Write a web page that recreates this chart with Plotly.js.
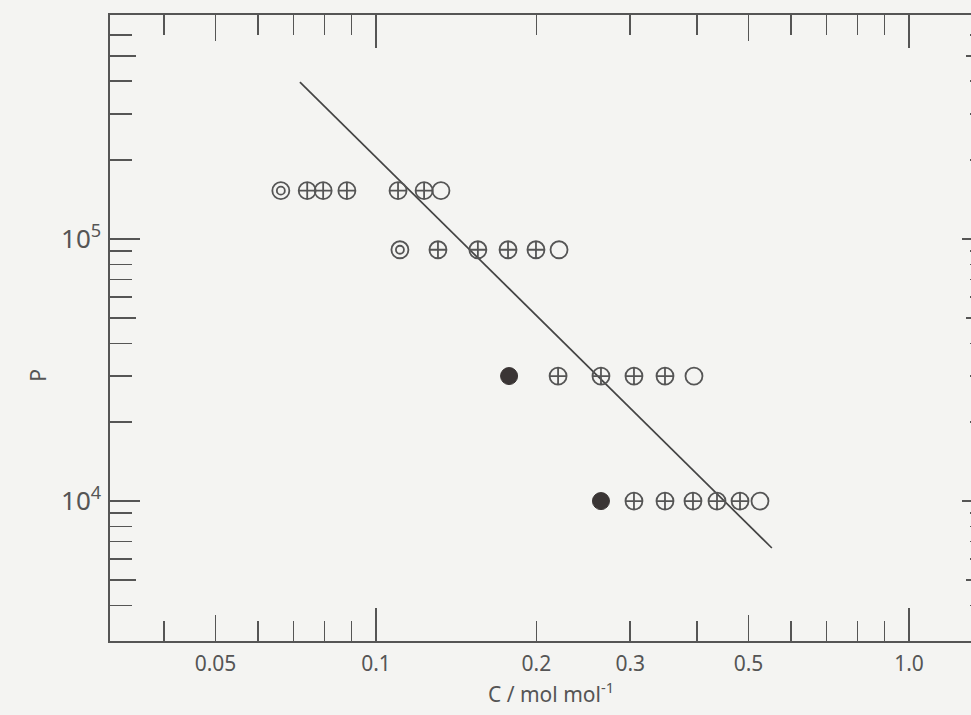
<!DOCTYPE html>
<html>
<head>
<meta charset="utf-8">
<script src="https://cdn.plot.ly/plotly-3.0.1.min.js"></script>
<style>
html,body{margin:0;padding:0;overflow:hidden;background:#f4f4f2;}
#chart{width:1002px;height:715px;}
</style>
</head>
<body>
<div id="chart"></div>
<script>
// Data
var row1C = [0.0743, 0.0796, 0.0882, 0.110, 0.1231];
var row1P = [1.53e5, 1.53e5, 1.53e5, 1.53e5, 1.53e5];
var row1DoubleC = [0.0663];
var row1DoubleP = [1.53e5];
var row1OpenC = [0.1324];
var row1OpenP = [1.53e5];

var row2C = [0.1307, 0.1553, 0.1769, 0.1996];
var row2P = [9.1e4, 9.1e4, 9.1e4, 9.1e4];
var row2DoubleC = [0.1109];
var row2DoubleP = [9.1e4];
var row2OpenC = [0.2205];
var row2OpenP = [9.1e4];

var row3C = [0.2196, 0.2643, 0.3048, 0.3485];
var row3P = [3.0e4, 3.0e4, 3.0e4, 3.0e4];
var row3FilledC = [0.1777];
var row3FilledP = [3.0e4];
var row3OpenC = [0.3950];
var row3OpenP = [3.0e4];

var row4C = [0.3048, 0.3485, 0.3933, 0.4363, 0.4819];
var row4P = [1.0e4, 1.0e4, 1.0e4, 1.0e4, 1.0e4];
var row4FilledC = [0.2643];
var row4FilledP = [1.0e4];
var row4OpenC = [0.5253];
var row4OpenP = [1.0e4];

var fitC = [0.0720, 0.553];
var fitP = [3.97e5, 6.62e3];

var xLabelVals = [0.05, 0.1, 0.2, 0.3, 0.5, 1.0];
var xLabelText = ['0.05', '0.1', '0.2', '0.3', '0.5', '1.0'];
var xMediumVals = [0.05, 0.5];
var xLongVals = [0.1, 1.0];
var xMinorVals = [0.04, 0.06, 0.07, 0.08, 0.09, 0.4, 0.6, 0.7, 0.8, 0.9];

var yLabelVals = [1e4, 1e5];
var yLabelText = ['10<sup>4</sup>', '10<sup>5</sup>'];
var yMediumVals = [5e3, 5e4, 5e5];
var yMinorVals = [4e3, 6e3, 7e3, 8e3, 9e3, 2e4, 3e4, 4e4, 6e4, 7e4, 8e4, 9e4, 2e5, 3e5, 4e5, 6e5];

var ink = '#555555';
var font = 'Noto Sans, DejaVu Sans, sans-serif';
var msize = 17;

function crossTrace(c, p) {
  return {x: c, y: p, type: 'scatter', mode: 'markers', hoverinfo: 'skip',
    marker: {symbol: 'circle-cross-open', size: msize, color: ink, line: {width: 1.8, color: ink}}};
}
function openTrace(c, p, s) {
  return {x: c, y: p, type: 'scatter', mode: 'markers', hoverinfo: 'skip',
    marker: {symbol: 'circle-open', size: s || msize, color: ink, line: {width: 1.8, color: ink}}};
}
function filledTrace(c, p) {
  return {x: c, y: p, type: 'scatter', mode: 'markers', hoverinfo: 'skip',
    marker: {symbol: 'circle', size: msize, color: '#3a3535', line: {width: 1, color: '#3a3535'}}};
}

var traces = [
  {x: fitC, y: fitP, type: 'scatter', mode: 'lines', hoverinfo: 'skip', line: {color: '#444', width: 1.7}},
  crossTrace(row1C, row1P), openTrace(row1DoubleC, row1DoubleP), openTrace(row1DoubleC, row1DoubleP, 8), openTrace(row1OpenC, row1OpenP),
  crossTrace(row2C, row2P), openTrace(row2DoubleC, row2DoubleP), openTrace(row2DoubleC, row2DoubleP, 8), openTrace(row2OpenC, row2OpenP),
  crossTrace(row3C, row3P), filledTrace(row3FilledC, row3FilledP), openTrace(row3OpenC, row3OpenP),
  crossTrace(row4C, row4P), filledTrace(row4FilledC, row4FilledP), openTrace(row4OpenC, row4OpenP),
  // empty traces that register the overlay axes used only for tick lengths
  {x: [], y: [], type: 'scatter', mode: 'markers', xaxis: 'x2', yaxis: 'y', hoverinfo: 'skip'},
  {x: [], y: [], type: 'scatter', mode: 'markers', xaxis: 'x3', yaxis: 'y', hoverinfo: 'skip'},
  {x: [], y: [], type: 'scatter', mode: 'markers', xaxis: 'x', yaxis: 'y2', hoverinfo: 'skip'}
];

var xr = [-1.499, 0.1557];
var yr = [3.466, 5.855];

function overlayX(vals, len) {
  return {type: 'log', range: xr, overlaying: 'x', side: 'bottom', tickmode: 'array', tickvals: vals,
    ticktext: vals.map(function () { return ' '; }),
    ticks: 'inside', ticklen: len, tickwidth: 1.6, tickcolor: ink, showticklabels: false,
    showline: false, mirror: 'ticks', showgrid: false, zeroline: false, fixedrange: true};
}
function overlayY(vals, len) {
  return {type: 'log', range: yr, overlaying: 'y', side: 'left', tickmode: 'array', tickvals: vals,
    ticktext: vals.map(function () { return ' '; }),
    ticks: 'inside', ticklen: len, tickwidth: 1.6, tickcolor: ink, showticklabels: false,
    showline: false, mirror: 'ticks', showgrid: false, zeroline: false, fixedrange: true};
}

var layout = {
  width: 1002, height: 715,
  margin: {l: 110, r: 10, t: 15, b: 74},
  paper_bgcolor: '#f4f4f2', plot_bgcolor: '#f4f4f2',
  showlegend: false,
  font: {family: font, color: ink, size: 20},
  xaxis: {
    type: 'log', range: xr, tickmode: 'array', tickvals: xLabelVals, ticktext: xLabelText,
    ticks: 'inside', ticklen: 20, tickwidth: 1.6, tickcolor: ink,
    minor: {tickmode: 'array', tickvals: xMinorVals, ticks: 'inside', ticklen: 20, tickwidth: 1.6, tickcolor: ink, showgrid: false},
    showline: true, linecolor: ink, linewidth: 1.6, mirror: 'ticks', showgrid: false, zeroline: false,
    tickfont: {size: 21, color: ink}, ticklabelstandoff: 3,
    title: {text: 'C / mol mol<sup>-1</sup>', font: {size: 21, color: ink}, standoff: 9}
  },
  xaxis2: overlayX(xMediumVals, 26),
  xaxis3: overlayX(xLongVals, 33),
  yaxis: {
    type: 'log', range: yr, tickmode: 'array', tickvals: yLabelVals, ticktext: yLabelText,
    ticks: 'inside', ticklen: 30, tickwidth: 1.6, tickcolor: ink,
    minor: {tickmode: 'array', tickvals: yMinorVals, ticks: 'inside', ticklen: 22, tickwidth: 1.6, tickcolor: ink, showgrid: false},
    showline: true, linecolor: ink, linewidth: 1.6, mirror: 'ticks', showgrid: false, zeroline: false,
    tickfont: {size: 26, color: ink}, ticklabelstandoff: 2
  },
  yaxis2: overlayY(yMediumVals, 26),
  annotations: [{
    text: 'P', xref: 'paper', yref: 'paper', x: -0.082, y: 0.425, xanchor: 'center', yanchor: 'middle',
    textangle: -90, showarrow: false, font: {size: 21, color: ink}
  }]
};

Plotly.newPlot('chart', traces, layout, {staticPlot: true, displayModeBar: false});
</script>
</body>
</html>
